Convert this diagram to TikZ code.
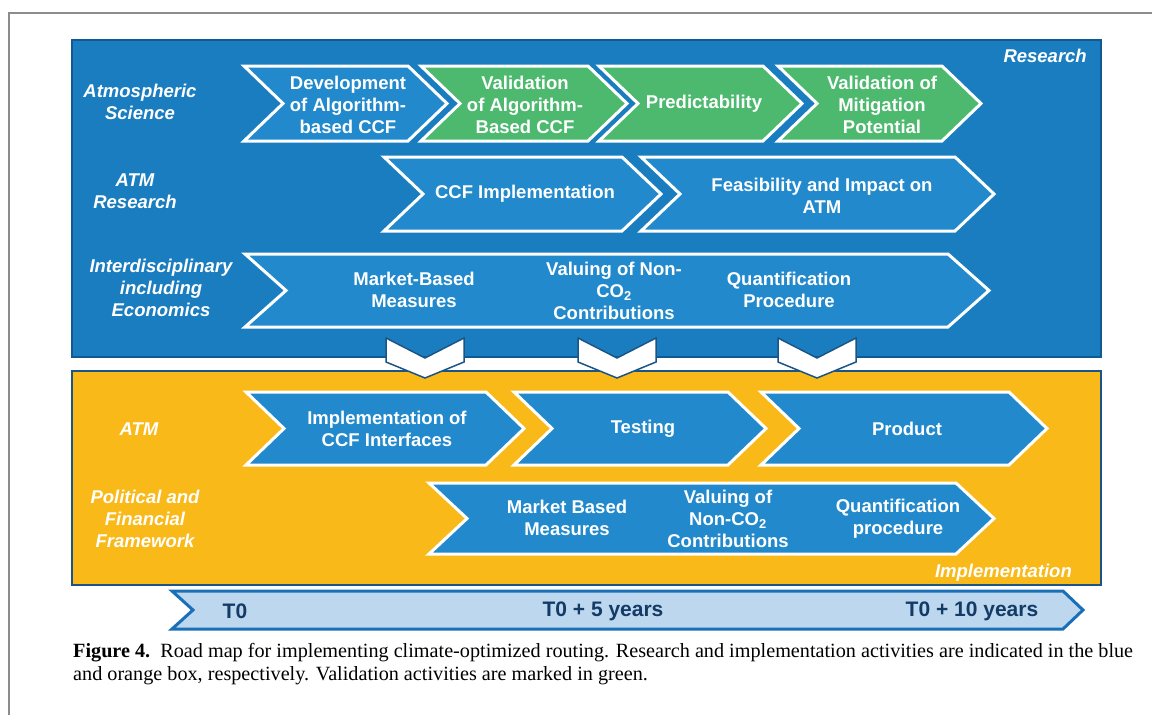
\documentclass[tikz,border=0pt]{standalone}
\usepackage{fontspec}
\newfontfamily\sansf{Liberation Sans}
\newfontfamily\seriff{Liberation Serif}
\definecolor{boxblue}{HTML}{1A7DC0}
\definecolor{boxblueedge}{HTML}{105A94}
\definecolor{chevblue}{HTML}{2189CC}
\definecolor{chevgreen}{HTML}{4CB96E}
\definecolor{orangebg}{HTML}{F9B918}
\definecolor{navyedge}{HTML}{1B5587}
\definecolor{tlfill}{HTML}{BDD7EE}
\definecolor{tledge}{HTML}{1A70B8}
\definecolor{tltext}{HTML}{143A66}
\definecolor{framegray}{HTML}{8C8C8C}
% #1 style, #2 left x, #3 tip x, #4 top y, #5 bottom y, #6 depth
\newcommand{\chevshape}[6]{%
  \path[#1] (#2,#4) -- ({#3-#6},#4) -- (#3,{(#4+#5)/2}) -- ({#3-#6},#5) -- (#2,#5) -- ({#2+#6},{(#4+#5)/2}) -- cycle;}
% #1 centre x
\newcommand{\downchev}[1]{%
  \path[downarrow] ({#1-39},338) -- (#1,358) -- ({#1+39},338) -- ({#1+39},362) -- (#1,378) -- ({#1-39},362) -- cycle;}
\begin{document}
\begin{tikzpicture}[x=1pt,y=-1pt,
  chev/.style={fill=#1, draw=white, line width=3pt, line join=miter},
  downarrow/.style={fill=white, draw=navyedge, line width=1.5pt, line join=miter},
  lab/.style={text=white, font=\sansf\bfseries\fontsize{18.5}{22}\selectfont, align=center, inner sep=0pt},
  side/.style={text=white, font=\sansf\bfseries\itshape\fontsize{18.5}{22}\selectfont, align=center, inner sep=0pt},
  tl/.style={text=tltext, font=\sansf\bfseries\fontsize{21}{24}\selectfont, inner sep=0pt},
  captext/.style={anchor=base west, inner sep=0pt, font=\seriff\fontsize{20.2}{24}\selectfont}]
\useasboundingbox (0,0) rectangle (1152,715);
\fill[white] (0,0) rectangle (1152,715);
% outer frame
\draw[framegray, line width=2pt] (9,715) -- (9,13) -- (1152,13);
% boxes
\path[fill=boxblue, draw=boxblueedge, line width=1.5pt] (72,40) rectangle (1101,357);
\path[fill=orangebg, draw=navyedge, line width=1.5pt] (72,371) rectangle (1101,585);
% research chevrons
\chevshape{chev=chevblue}{244}{447}{66}{141}{39}
\chevshape{chev=chevgreen}{421}{627}{66}{141}{39}
\chevshape{chev=chevgreen}{599}{802}{66}{141}{39}
\chevshape{chev=chevgreen}{778}{981}{66}{141}{39}
\chevshape{chev=chevblue}{384}{661}{157}{231}{39}
\chevshape{chev=chevblue}{641}{994}{157}{231}{39}
\chevshape{chev=chevblue}{245}{989}{254}{327}{41}
% implementation chevrons
\chevshape{chev=chevblue}{246}{524}{392}{465}{38}
\chevshape{chev=chevblue}{514}{766}{392}{465}{38}
\chevshape{chev=chevblue}{761}{1047}{392}{465}{38}
\chevshape{chev=chevblue}{429}{994}{483}{554}{38}
% down chevrons
\downchev{425}
\downchev{617}
\downchev{817}
% timeline
\path[fill=tlfill, draw=tledge, line width=3pt, line join=miter] (172,591) -- (1063,591) -- (1083,610) -- (1063,629) -- (172,629) -- (193,610) -- cycle;
% side labels
\node[side] (atmos) at (140,102) {Atmospheric\\Science};
\node[side] (atmres) at (135,191) {ATM\\Research};
\node[side] (interd) at (161,288) {Interdisciplinary\\including\\Economics};
\node[side] (atm) at (139,429) {ATM};
\node[side] (polit) at (145,519) {Political and\\Financial\\Framework};
\node[side, anchor=east] (research) at (1087,56) {Research};
\node[side, anchor=east] (implem) at (1072,573) {Implementation};
% chevron texts
\node[lab] (dev) at (348,105) {Development\\of Algorithm-\\based CCF};
\node[lab] (val) at (525,105) {Validation\\of Algorithm-\\Based CCF};
\node[lab] (pred) at (704,104) {Predictability};
\node[lab] (valmit) at (882,105) {Validation of\\Mitigation\\Potential};
\node[lab] (ccfimp) at (525,194) {CCF Implementation};
\node[lab] (feas) at (822,196) {Feasibility and Impact on\\ATM};
\node[lab] (mbm) at (414,290) {Market-Based\\Measures};
\node[lab] (valnon) at (614,291) {Valuing of Non-\\CO\textsubscript{2}\\Contributions};
\node[lab] (quant) at (789,290) {Quantification\\Procedure};
\node[lab] (impccf) at (387,429) {Implementation of\\CCF Interfaces};
\node[lab] (test) at (643,429) {Testing};
\node[lab] (prod) at (907,429) {Product};
\node[lab] (mbm2) at (567,518) {Market Based\\Measures};
\node[lab] (valnon2) at (728,519) {Valuing of\\Non-CO\textsubscript{2}\\Contributions};
\node[lab] (quant2) at (898,519) {Quantification\\procedure};
% timeline texts
\node[tl] (t0) at (235,611) {T0};
\node[tl] (t5) at (603,611) {T0 + 5 years};
\node[tl] (t10) at (972,611) {T0 + 10 years};
% caption
\node[captext] (cap1) at (73,657)
  {\textbf{Figure 4.}\ \ Road map for implementing climate-optimized routing. Research and implementation activities are indicated in the blue};
\node[captext] (cap2) at (73,680)
  {and orange box, respectively. Validation activities are marked in green.};
\end{tikzpicture}
\end{document}
